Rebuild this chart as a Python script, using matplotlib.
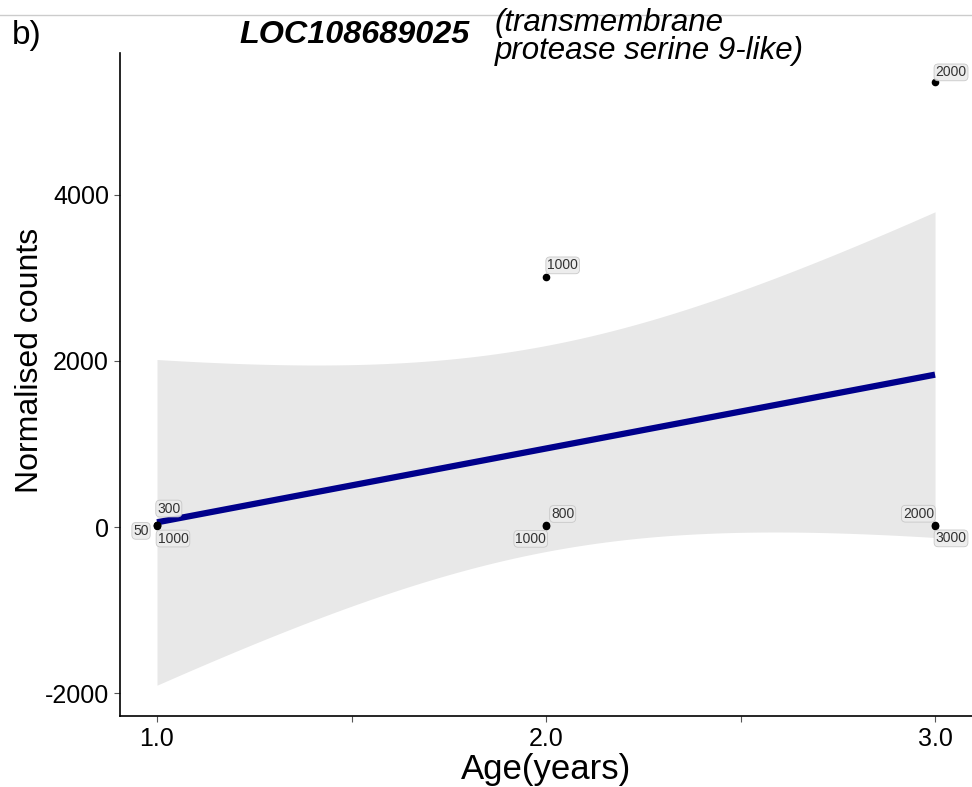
import numpy as np
import matplotlib
matplotlib.use("Agg")
import matplotlib.pyplot as plt
from matplotlib.lines import Line2D

plt.rcParams["font.family"] = ["Liberation Sans", "DejaVu Sans"]
plt.rcParams["axes.unicode_minus"] = False

# =========================
# Data: normalised counts per sample, labelled by dose
# =========================
age = np.array([1, 1, 1, 2, 2, 2, 3, 3, 3], dtype=float)
counts = np.array([12, 30, 20, 3010, 15, 25, 5360, 18, 22], dtype=float)
dose_labels = ["50", "300", "1000", "1000", "800", "1000", "2000", "2000", "3000"]

x_ticks = [1.0, 2.0, 3.0]
x_tick_labels = ["1.0", "2.0", "3.0"]
y_ticks = [-2000, 0, 2000, 4000]

# label offsets (points) so the text boxes don't sit on top of each other
label_offsets = [(-11.5, -3.5), (8.5, 11.5), (11.5, -9.5),
                 (12, 8.5), (12, 8.5), (-11, -10),
                 (11.5, 7), (-12, 8.5), (11.5, -9.5)]

# =========================
# Linear fit + confidence band
# =========================
n = len(age)
slope, intercept = np.polyfit(age, counts, 1)
resid = counts - (intercept + slope * age)
s = np.sqrt(np.sum(resid ** 2) / (n - 2))
sxx = np.sum((age - age.mean()) ** 2)
t_crit = 1.97

xs = np.linspace(1, 3, 100)
fit = intercept + slope * xs
se = s * np.sqrt(1 / n + (xs - age.mean()) ** 2 / sxx)
lower = fit - t_crit * se
upper = fit + t_crit * se

# =========================
# Plot
# =========================
fig = plt.figure(figsize=(9.72, 7.87), dpi=100)
ax = fig.add_axes([0.1235, 0.0902, 0.8765, 0.8425])

ax.fill_between(xs, lower, upper, color="#e8e8e8", lw=0, zorder=1)
ax.plot(xs, fit, color="#00008b", lw=4.5, zorder=2, solid_capstyle="butt")
ax.scatter(age, counts, s=20, color="black", zorder=3)

for xi, yi, lab, off in zip(age, counts, dose_labels, label_offsets):
    ax.annotate(lab, (xi, yi), xytext=off, textcoords="offset points",
                ha="center", va="center", fontsize=10, color="#333333",
                bbox=dict(boxstyle="round,pad=0.1,rounding_size=0.3",
                          fc="#ececec", ec="#c4c4c4", lw=0.6, alpha=0.9),
                zorder=4)

ax.set_xlim(0.905, 3.095)
ax.set_ylim(-2277, 5711)
ax.set_xticks(x_ticks)
ax.set_xticklabels(x_tick_labels)
ax.set_xticks([1.5, 2.5], minor=True)
ax.set_yticks(y_ticks)

for side in ["top", "right"]:
    ax.spines[side].set_visible(False)
for side in ["left", "bottom"]:
    ax.spines[side].set_linewidth(1.2)
    ax.spines[side].set_color("black")

ax.tick_params(axis="both", which="major", length=4, width=0.8, color="#555555",
               labelsize=18, labelcolor="black", pad=4)
ax.tick_params(axis="x", which="minor", length=4, width=0.8, color="#555555")

ax.set_xlabel("Age(years)", fontsize=25, va="center")
ax.xaxis.set_label_coords(0.5, -0.08)
ax.set_ylabel("Normalised counts", fontsize=23, va="center")
ax.yaxis.set_label_coords(-0.106, 0.537)

# titles
fig.text(0.012, 0.955, "b)", fontsize=24, ha="left", va="center")
fig.text(0.365, 0.955, "LOC108689025", fontsize=23.3,
         fontweight="bold", fontstyle="italic", ha="center", va="center")
fig.text(0.509, 0.971, "(transmembrane", fontsize=22.5, fontstyle="italic",
         ha="left", va="center")
fig.text(0.509, 0.935, "protease serine 9-like)", fontsize=22.5, fontstyle="italic",
         ha="left", va="center")

# thin border line across the top
fig.add_artist(Line2D([0, 1], [0.981, 0.981], transform=fig.transFigure,
                      color="#cccccc", lw=1))

fig.savefig("out.png", dpi=100)
